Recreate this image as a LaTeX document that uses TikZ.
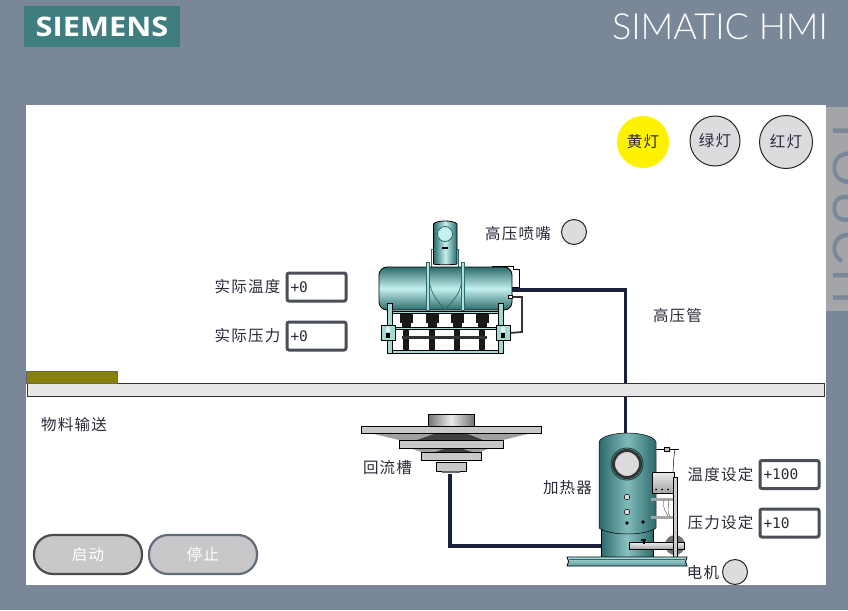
\documentclass[tikz,border=0pt]{standalone}
\usepackage{fontspec}
\usetikzlibrary{positioning}
\newfontfamily\cjk[LetterSpace=8]{Noto Sans CJK SC}
\newfontfamily\logofont[FakeStretch=1.14]{Open Sans}
\newfontfamily\brandfont[UprightFont=* Light]{Lato}
\newfontfamily\valuefont{DejaVu Sans Mono}
\newfontfamily\tabfont[LetterSpace=9]{Liberation Sans}
\definecolor{slate}{HTML}{7A8799}
\definecolor{tabgrey}{HTML}{A3A5A9}
\definecolor{logoteal}{HTML}{3F7D80}
\definecolor{pipeblue}{HTML}{1A1F3A}
\definecolor{lampgrey}{HTML}{DEDBDF}
\definecolor{inktext}{HTML}{2A2A3C}
\definecolor{boxborder}{HTML}{4A4E58}
\definecolor{tealdark}{HTML}{2B6A6C}
\definecolor{tealmid}{HTML}{5C9C9C}
\definecolor{teallight}{HTML}{C4F0EE}
\definecolor{platelight}{HTML}{C9C7C9}
\tikzset{
hmilabel/.style={font=\cjk\fontsize{15.5}{17}\selectfont,text=inktext,inner sep=0pt},
lamp/.style={circle,draw=black!85,line width=1pt,fill=lampgrey,minimum size=#1,inner sep=0pt,
  font=\cjk\fontsize{15.5}{17}\selectfont,text=inktext},
valuebox/.style={rectangle,rounded corners=2pt,draw=boxborder,line width=3pt,fill=white,minimum width=59pt,minimum height=28pt,
  inner sep=3pt,text width=52pt,align=left,text=inktext,font=\valuefont\fontsize{14.5}{16}\selectfont},
pushbutton/.style={rectangle,rounded corners=19pt,fill=platelight,line width=2.2pt,minimum width=108pt,
  minimum height=39pt,text=white,font=\cjk\fontsize{15.5}{17}\selectfont},
pipe/.style={draw=pipeblue,line width=3.4pt},
plate/.style={rectangle,draw=black,line width=1pt,fill=platelight,inner sep=0pt},
steelbar/.style={draw=black,line width=.8pt,fill=teallight!70!tealmid},
blackpart/.style={fill=black!90,draw=none},
}
\begin{document}
\begin{tikzpicture}[x=1pt,y=-1pt]
\useasboundingbox (0,0) rectangle (848,610);
\fill[slate] (0,0) rectangle (848,610);
% the header
\node[rectangle,fill=logoteal,minimum width=156pt,minimum height=41pt,inner sep=0pt,text=white,
  font=\logofont\bfseries\fontsize{27}{30}\selectfont] (logo) at (102,26.5) {SIEMENS};
\node[text=white,inner sep=0pt,font=\brandfont\fontsize{36}{38}\selectfont] (brand) at (720,27) {SIMATIC HMI};
% the panel
\fill[white] (26,105) rectangle (826,585);
\begin{scope}
\clip (826,107) rectangle (848,311);
\fill[tabgrey] (826,107) rectangle (848,311);
\node[rotate=-90,anchor=base west,inner sep=0pt,text=slate,font=\tabfont\fontsize{48}{50}\selectfont]
  (touchtab) at (833,116.5) {TOUCH};
\end{scope}
% the pipes
\coordinate (tankout) at (512,290);
\coordinate (heatertop) at (625.5,435);
\coordinate (heaterin) at (602,546);
\node[inner sep=0pt,minimum width=30pt,minimum height=3pt] (troughout) at (450,472) {};
\draw[pipe] (tankout) -| (heatertop);
\draw[pipe] (troughout.south) |- (heaterin);
% the belt
\node[rectangle,draw=black!80,line width=.8pt,fill=lampgrey!70!white,minimum width=797pt,minimum height=13pt,inner sep=0pt]
  (belt) at (425.5,389.5) {};
\node[rectangle,fill=olive!95!black,draw=black!60,line width=.6pt,minimum width=91pt,minimum height=12pt,inner sep=0pt]
  (material) at (71.5,377) {};
% the lamps
\node[circle,fill=yellow,minimum size=52pt,inner sep=0pt,text=inktext,font=\cjk\fontsize{15.5}{17}\selectfont]
  (yellowlamp) at (643,142) {黄灯};
\node[lamp=50pt] (greenlamp) at (715,141) {绿灯};
\node[lamp=53pt] (redlamp) at (786,142) {红灯};
\node[lamp=25pt] (nozzlelamp) at (574,232) {};
\node[lamp=25pt] (motorlamp) at (735,572) {};
% the spray unit
\draw[draw=tealdark,line width=1pt] (431,267) -- (431,249) -- (434,249);
\draw[draw=tealdark,line width=1pt] (458,267) -- (458,249) -- (456,249);
\shade[left color=tealdark,right color=tealdark,middle color=teallight,draw=black,line width=.8pt]
  (433.5,264) -- (433.5,224) .. controls (436,220) and (454,220) .. (457,224) -- (457,264) .. controls (454,265) and (436,265) .. cycle;
\draw[draw=tealdark,line width=.8pt,fill=teallight] (445,234) circle (7.5);
\fill[black] (442,247) rectangle (448,249);
\draw[black,line width=.7pt] (492,266) -- (513,266) -- (513,269) -- (519,269) -- (519,287) -- (512,287);
\node[rectangle,rounded corners=8pt,draw=black,line width=.8pt,top color=tealdark,bottom color=tealdark,middle color=teallight,
  minimum width=133pt,minimum height=43pt,inner sep=0pt] (tankbody) at (445.5,288.5) {};
\draw[tealdark,line width=.7pt] (430,285) .. controls (433,298) and (440,303) .. (445,310) .. controls (450,303) and (458,298) .. (461,285);
\foreach \x in {426,461}
  \fill[teallight!80!tealmid,draw=tealdark,line width=.4pt] (\x,262) rectangle ++(3,48);
% the nozzles
\foreach \x in {406,432,457,482}
{
  \fill[blackpart] (\x-6.5,312) rectangle (\x+6.5,323);
  \fill[blackpart] (\x-4.5,323) rectangle (\x+4.5,329);
  \fill[blackpart] (\x-3,329) rectangle (\x+3,350);
}
\fill[black!80] (402,336) rectangle (487,339);
\draw[steelbar] (392,311) rectangle (498,313.5);
\draw[steelbar] (392,327) rectangle (498,329.5);
\draw[steelbar] (387,350) rectangle (503,353);
\foreach \x in {387,498}
  \draw[steelbar] (\x,303) rectangle ++(5,50);
\foreach \x/\n in {381/blockl,496/blockr}
{
  \node[rectangle,draw=black,line width=.8pt,fill=teallight!70!tealmid,minimum width=14pt,minimum height=15pt,inner sep=0pt,anchor=north west]
    (\n) at (\x,325) {};
  \fill[white!85!tealmid] (\x+5,327) rectangle ++(4,5);
  \fill[black] (\x+5,333) rectangle ++(4,5);
}
\node[rectangle,draw=black,line width=.5pt,fill=white,minimum width=4pt,minimum height=3pt,inner sep=0pt] (tanktap) at (510.5,297) {};
\draw[black!80,line width=1.8pt] (tanktap.east) -| (522,332) -- (blockr.east);
% the trough
\shade[left color=black!55,right color=black!55,middle color=black!8,draw=black,line width=.8pt] (428,414) rectangle (474,427);
\fill[platelight!80!black] (370,433) -- (532,433) -- (503,440) -- (399,440) -- cycle;
\fill[black!75] (417,440) -- (437,433) -- (465,433) -- (483,440) -- cycle;
\fill[platelight!80!black] (410,448) -- (490,448) -- (481,452) -- (421,452) -- cycle;
\fill[black!75] (435,452) -- (447,448) -- (460,448) -- (472,452) -- cycle;
\node[plate,minimum width=180pt,minimum height=6.5pt] (troughtop) at (451,430) {};
\node[plate,minimum width=104pt,minimum height=8pt] (troughmid) at (451,444) {};
\node[plate,minimum width=60pt,minimum height=8.5pt] (troughlow) at (451,456.5) {};
\node[plate,minimum width=30pt,minimum height=9pt] (troughfoot) at (451,466.5) {};
\fill[black!60] (442,471) rectangle (460,472.5);
% the heater
\draw[black,line width=.6pt,fill=black!10] (656,449) -- (679,449);
\draw[black,line width=.5pt] (675,450) .. controls (672,465) and (673,490) .. (674,520);
\shade[left color=tealdark,right color=tealdark,middle color=tealmid!55!teallight,draw=black,line width=.5pt]
  (601,527) rectangle (653,558);
\shade[left color=tealdark,right color=tealdark,middle color=tealmid!65!teallight,draw=black,line width=.5pt]
  (599,528) -- (599,442) .. controls (601,436) and (615,433) .. (627.5,433) .. controls (640,433) and (654,436) .. (656,442)
  -- (656,528) .. controls (645,536) and (610,536) .. cycle;
\node[circle,draw=black!80,line width=3pt,fill=lampgrey,minimum size=27pt,inner sep=0pt] (heaterwindow) at (627,464) {};
\draw[tealdark!70!black,line width=1pt] (heaterwindow) circle (16);
\foreach \y in {497,512}
  \draw[black,line width=.5pt,fill=lampgrey] (627,\y) circle (2.8);
\foreach \x/\y in {627/523,643/522}
  \fill[black] (\x,\y) circle (1.8);
\node[rectangle,draw=black,line width=.6pt,fill=black!25,minimum width=5pt,minimum height=4pt,inner sep=0pt] (sensor) at (667,449) {};
\fill[black!35] (651,498) rectangle (674,500.5);
\fill[black!35] (651,516) rectangle (674,518.5);
\draw[black!70,line width=.4pt] (664,500) .. controls (662,508) and (666,512) .. (668,516);
\draw[black!70,line width=.4pt] (668,500) .. controls (670,506) and (666,510) .. (670,516);
\node[rectangle,draw=black,line width=.6pt,top color=black!8,bottom color=black!35,minimum width=22pt,minimum height=21pt,inner sep=0pt]
  (controlbox) at (663,482.5) {};
\foreach \x in {656,662,668}
  \fill[black] (\x,489.5) circle (1);
\fill[black!55] (675,545) circle (10);
\shade[top color=black!5,bottom color=black!35,draw=black,line width=.6pt] (629,542) rectangle (684,549);
\draw[black,line width=.5pt,fill=black!20] (673,477) rectangle (677,557);
\fill[black] (641,539) rectangle (646,540.5);
\fill[black] (642.5,540) rectangle (644.5,544);
\shade[top color=teallight!80!tealmid,bottom color=tealmid,draw=black,line width=.8pt]
  (567,557) -- (687,557) -- (685.5,561.5) -- (687,566) -- (567,566) -- (568.5,561.5) -- cycle;
\draw[tealdark,line width=.5pt] (569,559.5) -- (685,559.5);
% the values
\node[valuebox] (tempactual) at (316.5,287) {+0};
\node[valuebox] (pressactual) at (316.5,336) {+0};
\node[valuebox] (tempset) at (789.5,474.5) {+100};
\node[valuebox] (pressset) at (789.5,523) {+10};
\node[hmilabel,left=5pt of tempactual] (tempactuallabel) {实际温度};
\node[hmilabel,left=5pt of pressactual] (pressactuallabel) {实际压力};
\node[hmilabel,left=5pt of tempset] (tempsetlabel) {温度设定};
\node[hmilabel,left=5pt of pressset] (presssetlabel) {压力设定};
% the labels
\node[hmilabel] (nozzlelabel) at (518,234) {高压喷嘴};
\node[hmilabel] (pipelabel) at (677.5,316) {高压管};
\node[hmilabel] (beltlabel) at (74,425) {物料输送};
\node[hmilabel] (troughlabel) at (387.5,468) {回流槽};
\node[hmilabel] (heaterlabel) at (567.5,488) {加热器};
\node[hmilabel] (motorlabel) at (703,573) {电机};
% the buttons
\node[pushbutton,draw=black!70] (startbutton) at (88,554.5) {启动};
\node[pushbutton,draw=slate!80!black] (stopbutton) at (203,554.5) {停止};
\end{tikzpicture}
\end{document}
